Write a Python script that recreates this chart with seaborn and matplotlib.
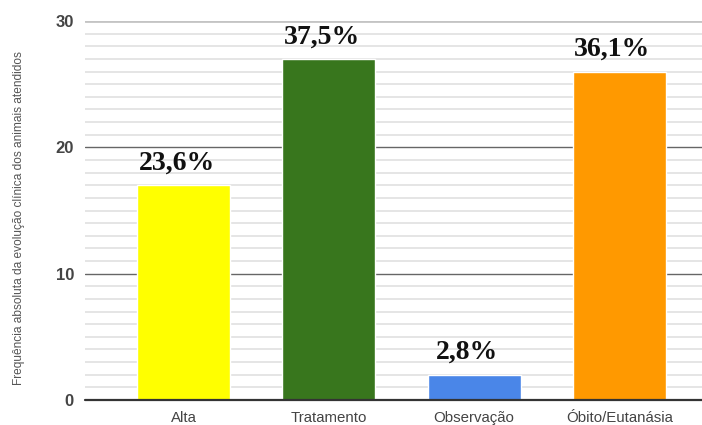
import matplotlib
matplotlib.use("Agg")
import matplotlib.pyplot as plt
from matplotlib.ticker import MultipleLocator
import seaborn as sns
import pandas as pd

categorias = ["Alta", "Tratamento", "Observação", "Óbito/Eutanásia"]
frequencias = [17, 27, 2, 26]
cores = ["#FFFF00", "#38761D", "#4A86E8", "#FF9900"]

total = sum(frequencias)
rotulos = [f"{100 * v / total:.1f}%".replace(".", ",") for v in frequencias]

df = pd.DataFrame({"categoria": categorias, "frequencia": frequencias})

sns.set_theme(style="white")
plt.rcParams["font.family"] = ["Liberation Sans", "DejaVu Sans"]

fig = plt.figure(figsize=(7.02, 4.25), dpi=100)
ax = fig.add_axes([85 / 702, 1 - 400 / 425, 1 - 85 / 702, (400 - 21) / 425])

sns.barplot(data=df, x="categoria", y="frequencia", hue="categoria",
            palette=cores, legend=False, width=0.64, saturation=1,
            ax=ax, zorder=3)

ax.set_ylim(0, 30)
ax.set_xlim(-0.68, 3.57)
ax.yaxis.set_major_locator(MultipleLocator(10))
ax.yaxis.set_minor_locator(MultipleLocator(1))

# gridlines: light minor lines, dark majors, lighter top line
ax.grid(which="minor", axis="y", color="#e3e3e3", linewidth=1.3, zorder=0)
for y in (10, 20):
    ax.axhline(y, color="#666666", linewidth=1.0, zorder=1)
ax.axhline(30, color="#c4c4c4", linewidth=2.0, zorder=1)
ax.axhline(0, color="#333333", linewidth=1.6, zorder=4, clip_on=False)

for s in ax.spines.values():
    s.set_visible(False)

ax.tick_params(axis="both", which="both", length=0)
ax.tick_params(axis="y", pad=8)
ax.tick_params(axis="x", pad=8)
for lbl in ax.get_yticklabels():
    lbl.set_fontweight("bold")
    lbl.set_fontsize(12)
    lbl.set_color("#444444")
for lbl in ax.get_xticklabels():
    lbl.set_fontsize(10.8)
    lbl.set_color("#444444")

ax.set_xlabel("")
ax.set_ylabel("Frequência absoluta da evolução clínica dos animais atendidos",
              fontsize=8.6, color="#555555")
ax.yaxis.set_label_coords(-60 / 617, 0.479)

for i, (v, r) in enumerate(zip(frequencias, rotulos)):
    ax.annotate(r, xy=(i, v), xytext=(-5, 7), textcoords="offset points",
                ha="center", va="bottom", fontsize=20, fontweight="bold",
                family=["Liberation Serif", "DejaVu Serif"], color="#111111",
                zorder=5)

fig.savefig("out.png", dpi=100)
